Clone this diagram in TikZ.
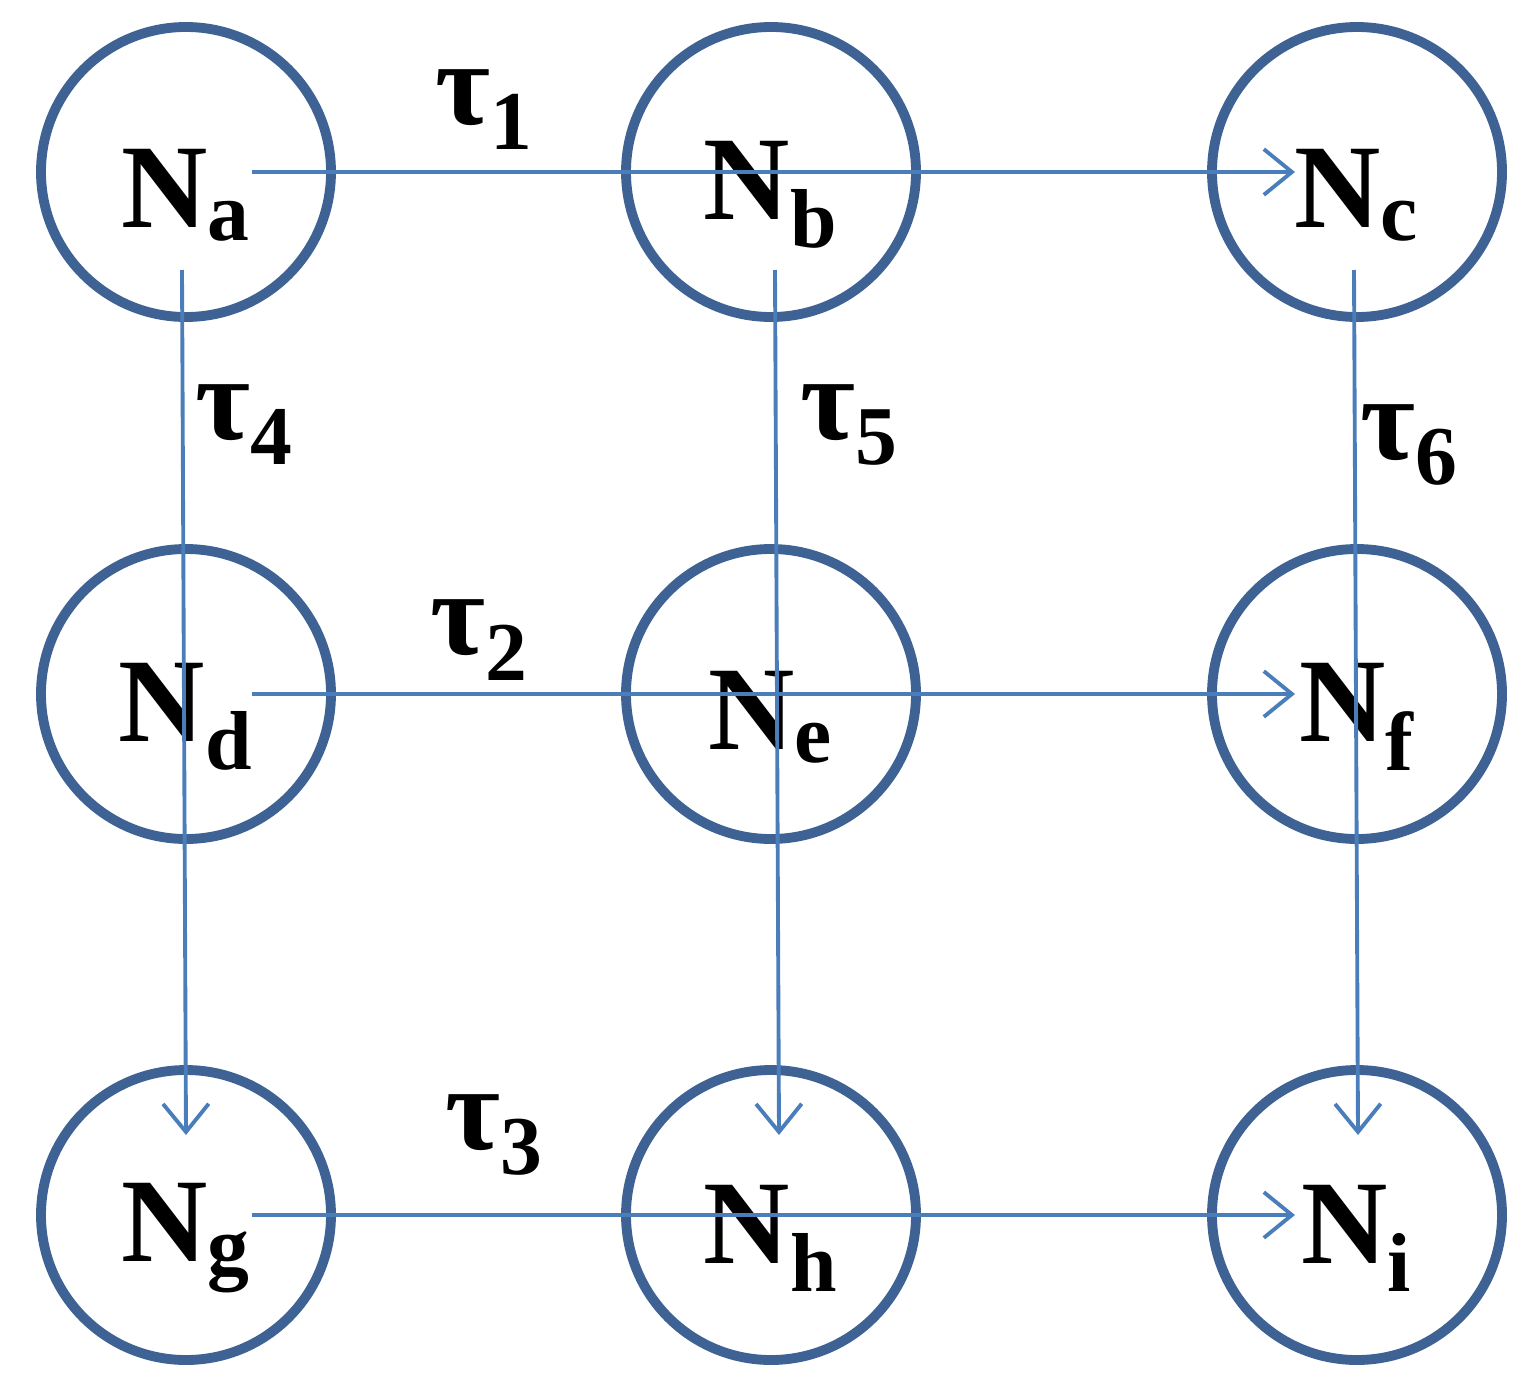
\documentclass[tikz,border=0pt]{standalone}
\usepackage{fontspec}
\setmainfont{Liberation Serif}
\usetikzlibrary{arrows.meta}
\definecolor{ringblue}{RGB}{63,98,148}
\definecolor{lineblue}{RGB}{74,126,187}
\begin{document}
\begin{tikzpicture}[x=1cm,y=1cm]
	\useasboundingbox (0,0) rectangle (15.3,13.9);
	\begin{scope}[every node/.style={circle,draw=ringblue,line width=2.8pt,minimum size=2.9cm,inner sep=0pt}]
	\node (A) at (1.86,12.18) {};
	\node (B) at (7.71,12.18) {};
	\node (C) at (13.57,12.18) {};
	\node (D) at (1.86,6.96) {};
	\node (E) at (7.71,6.96) {};
	\node (F) at (13.57,6.96) {};
	\node (G) at (1.86,1.75) {};
	\node (H) at (7.71,1.75) {};
	\node (I) at (13.57,1.75) {};
	\end{scope}

	\begin{scope}[every node/.style={font=\fontsize{34}{40}\selectfont\bfseries}]
	\node (LA) at (1.86,11.95) {N\textsubscript{a}};
	\node (LB) at (7.71,11.95) {N\textsubscript{b}};
	\node (LC) at (13.57,11.95) {N\textsubscript{c}};
	\node (LD) at (1.86,6.73) {N\textsubscript{d}};
	\node (LE) at (7.71,6.73) {N\textsubscript{e}};
	\node (LF) at (13.57,6.73) {N\textsubscript{f}};
	\node (LG) at (1.86,1.52) {N\textsubscript{g}};
	\node (LH) at (7.71,1.52) {N\textsubscript{h}};
	\node (LI) at (13.57,1.52) {N\textsubscript{i}};
	\node (T1) at (4.85,12.8) {τ\textsubscript{1}};
	\node (T2) at (4.8,7.5) {τ\textsubscript{2}};
	\node (T3) at (4.95,2.55) {τ\textsubscript{3}};
	\node (T4) at (2.45,9.65) {τ\textsubscript{4}};
	\node (T5) at (8.5,9.65) {τ\textsubscript{5}};
	\node (T6) at (14.1,9.45) {τ\textsubscript{6}};
	\end{scope}

	\begin{scope}[>={Straight Barb[length=8pt,width=13pt]},
	every path/.style={draw=lineblue,line width=1.1pt}]
	\coordinate (A1) at (2.52,12.18);
	\coordinate (C1) at (12.95,12.18);
	\coordinate (D1) at (2.52,6.96);
	\coordinate (F1) at (12.95,6.96);
	\coordinate (G1) at (2.52,1.75);
	\coordinate (I1) at (12.95,1.75);
	\coordinate (A2) at (1.82,11.2);
	\coordinate (G2) at (1.86,2.55);
	\coordinate (B2) at (7.75,11.2);
	\coordinate (H2) at (7.79,2.55);
	\coordinate (C2) at (13.54,11.2);
	\coordinate (I2) at (13.58,2.55);
	\draw [->] (A1) -- (C1);
	\draw [->] (D1) -- (F1);
	\draw [->] (G1) -- (I1);
	\draw [->] (A2) -- (G2);
	\draw [->] (B2) -- (H2);
	\draw [->] (C2) -- (I2);
	\end{scope}
\end{tikzpicture}
\end{document}
